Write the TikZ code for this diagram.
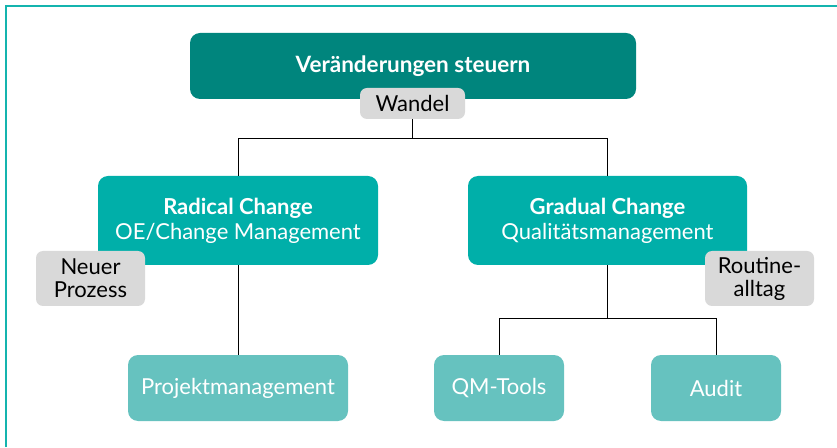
\documentclass[tikz,border=0pt]{standalone}
\usepackage{fontspec}
\setmainfont{Lato}
\usetikzlibrary{positioning}
\definecolor{tealdark}{HTML}{00857D}
\definecolor{tealmid}{HTML}{00AFA9}
\definecolor{teallight}{HTML}{66C2BF}
\definecolor{tagfill}{HTML}{D9D9D9}
\definecolor{frameline}{HTML}{14B4AE}

\begin{document}
\begin{tikzpicture}[
  x=1pt, y=1pt,
  font=\fontsize{22}{25}\selectfont,
  rootbox/.style={fill=tealdark, rounded corners=10pt, align=center, inner sep=0pt,
                  text=white, minimum width=446pt, minimum height=66pt},
  midbox/.style={rootbox, fill=tealmid, minimum width=280pt, minimum height=89pt},
  leafbox/.style={rootbox, fill=teallight, minimum width=130pt, minimum height=66pt},
  tagbox/.style={fill=tagfill, rounded corners=7pt, align=center, inner sep=0pt,
                 text=black, minimum width=109pt, minimum height=55pt,
                 font=\fontsize{22}{23}\selectfont},
  conn/.style={draw=black, line width=0.9pt}
]
\useasboundingbox (0,0) rectangle (837,447);
% ----- frame, top and left edge -----
\draw[frameline, line width=2.2pt] (6,0) -- (6,441) -- (837,441);
% ----- top level -----
\node[rootbox, font=\fontsize{22.5}{25}\selectfont] (root) at (413,381) {\textbf{Veränderungen steuern}};
\node[tagbox, minimum width=105pt, minimum height=31pt] (wandel) at (412.5,343.5) {Wandel};
% ----- second level -----
\node[midbox] (radical) at (238,226.5) {\textbf{Radical Change}\\OE/Change Management};
\node[midbox, minimum width=279pt] (gradual) at (607.5,226.5) {\textbf{Gradual Change}\\Qualitätsmanagement};
\node[tagbox] (neuer) at (90.5,168.5) {Neuer\\Prozess};
\node[tagbox] (routine) at (759.5,168.5) {Routine-\\alltag};
% ----- third level -----
\node[leafbox, minimum width=220pt] (projekt) at (238,59) {Projektmanagement};
\node[leafbox] (qmtools) at (499,59) {QM-Tools};
\node[leafbox] (audit) at (716,59) {Audit};
% ----- connectors -----
\coordinate (split1) at (412.5,309);
\coordinate (split2) at (607.5,129);
\draw[conn] (wandel.south) -- (split1);
\foreach \b in {radical, gradual}{\draw[conn] (split1) -| (\b.north);}
\draw[conn] (radical.south) -- (projekt.north);
\draw[conn] (gradual.south) -- (split2);
\foreach \b in {qmtools, audit}{\draw[conn] (split2) -| (\b.north);}
\end{tikzpicture}
\end{document}
